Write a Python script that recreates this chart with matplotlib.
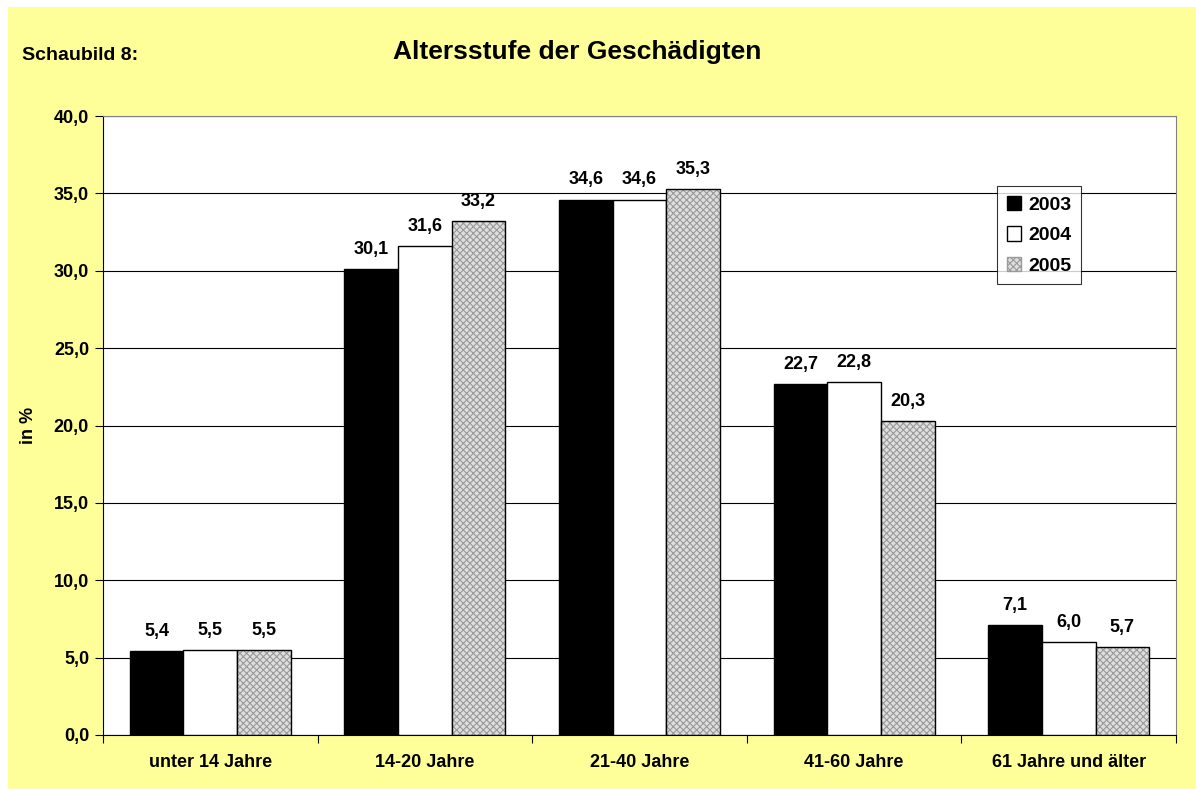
import matplotlib.pyplot as plt
import numpy as np
from matplotlib.patches import Patch

plt.rcParams['font.family'] = ['Liberation Sans', 'DejaVu Sans']
plt.rcParams['font.weight'] = 'bold'
plt.rcParams['hatch.linewidth'] = 0.8

# Daten
kategorien = ['unter 14 Jahre', '14-20 Jahre', '21-40 Jahre', '41-60 Jahre', '61 Jahre und älter']
jahre = ['2003', '2004', '2005']
werte_2003 = [5.4, 30.1, 34.6, 22.7, 7.1]
werte_2004 = [5.5, 31.6, 34.6, 22.8, 6.0]
werte_2005 = [5.5, 33.2, 35.3, 20.3, 5.7]
y_ticks = [0, 5, 10, 15, 20, 25, 30, 35, 40]

gelb = '#ffff99'

fig = plt.figure(figsize=(11.96, 7.89), dpi=100)
# weißer Rand, gelber Hintergrund
fig.patches.append(plt.Rectangle((8 / 1196, 0), 1 - 8 / 1196, 1 - 7 / 789,
                                 transform=fig.transFigure, facecolor=gelb,
                                 edgecolor='none', zorder=-5))

ax = fig.add_axes([103 / 1196, 1 - 735 / 789, (1176 - 103) / 1196, (735 - 116) / 789])
ax.set_facecolor('white')

x = np.arange(len(kategorien))
breite = 0.25

ax.bar(x - breite, werte_2003, breite, color='black', edgecolor='black', lw=1, zorder=3)
ax.bar(x, werte_2004, breite, color='white', edgecolor='black', lw=1, zorder=3)
# Schraffur in grau, dann schwarzer Rahmen drüber
ax.bar(x + breite, werte_2005, breite, color='#dedede', edgecolor='#9a9a9a', hatch='xxxxx', lw=0, zorder=3)
ax.bar(x + breite, werte_2005, breite, fill=False, edgecolor='black', lw=1, zorder=4)

for off, werte in zip([-breite, 0, breite], [werte_2003, werte_2004, werte_2005]):
    for xi, v in zip(x + off, werte):
        ax.annotate(f'{v:.1f}'.replace('.', ','), (xi, v), xytext=(0, 8),
                    textcoords='offset points', ha='center', va='bottom',
                    fontsize=13, fontweight='bold', zorder=5)

ax.set_xlim(-0.5, len(kategorien) - 0.5)
ax.set_ylim(0, 40)
ax.set_yticks(y_ticks)
ax.set_yticklabels([f'{t:.1f}'.replace('.', ',') for t in y_ticks], fontsize=13, fontweight='bold')
ax.yaxis.grid(True, color='black', lw=0.8, zorder=1)
ax.set_axisbelow(True)

ax.set_xticks(np.arange(len(kategorien) + 1) - 0.5)
ax.set_xticklabels([])
ax.set_xticks(x, minor=True)
ax.set_xticklabels(kategorien, minor=True, fontsize=13, fontweight='bold')
ax.tick_params(axis='x', which='minor', length=0, pad=14)
ax.tick_params(axis='x', which='major', length=6, direction='out')
ax.tick_params(axis='y', length=6, direction='out', pad=4)

ax.spines['top'].set_color('#808080')
ax.spines['right'].set_color('#808080')

ax.set_ylabel('in %', fontsize=13, fontweight='bold', labelpad=12)

handles = [Patch(facecolor='black', edgecolor='black'),
           Patch(facecolor='white', edgecolor='black'),
           Patch(facecolor='#dedede', edgecolor='#9a9a9a', hatch='xxxxx')]
leg = ax.legend(handles, jahre, loc='upper left', bbox_to_anchor=(894 / 1073, 1 - 70 / 619),
                fontsize=14, frameon=True, fancybox=False, edgecolor='black',
                handlelength=0.75, handleheight=0.75, handletextpad=0.35,
                labelspacing=0.65, borderpad=0.5, borderaxespad=0)
leg.get_frame().set_linewidth(0.8)
for t in leg.get_texts():
    t.set_fontweight('bold')

fig.text(22 / 1196, 1 - 55 / 789, 'Schaubild 8:', fontsize=14, fontweight='bold', va='center')
fig.text(577 / 1196, 1 - 52 / 789, 'Altersstufe der Geschädigten', fontsize=19,
         fontweight='bold', ha='center', va='center')

fig.savefig('out.png', dpi=100)
